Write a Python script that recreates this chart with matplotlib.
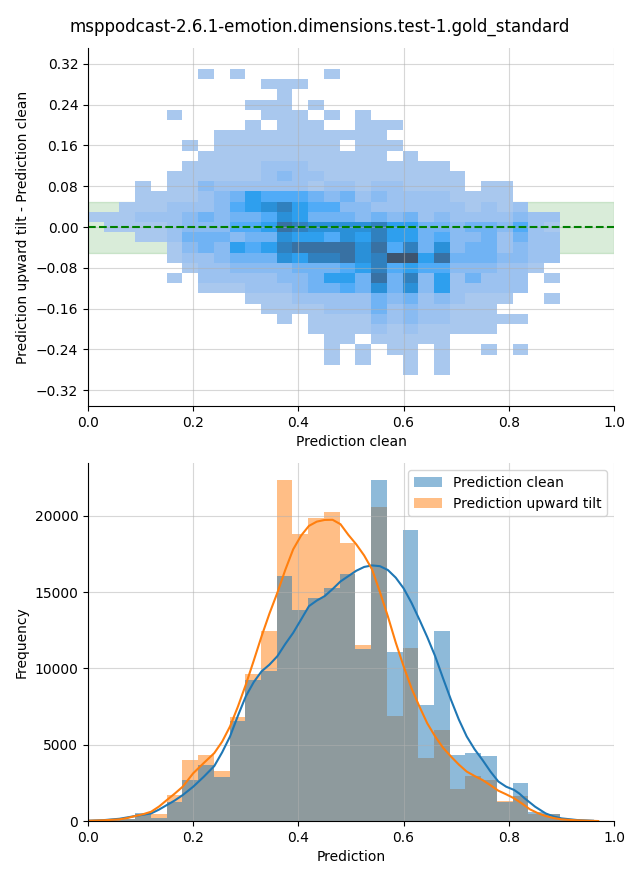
import numpy as np
import matplotlib
matplotlib.use("Agg")
import matplotlib.pyplot as plt
import seaborn as sns

TITLE = "msppodcast-2.6.1-emotion.dimensions.test-1.gold_standard"

############## Histogram (bottom) ##############
bin_width = 0.0299
clean_counts = [30, 80, 150, 550, 220, 1230, 2690, 3640, 2910, 6570, 9270,
                9860, 16030, 13860, 14590, 15240, 16200, 11300, 22340, 11100,
                19050, 7620, 12480, 4340, 4450, 4270, 1250, 2470, 610, 470,
                110, 50, 20]
tilt_counts = [20, 50, 120, 450, 450, 1710, 4010, 4340, 3280, 6850, 9660,
               12480, 22340, 18790, 19840, 20240, 18200, 11560, 20610, 6900,
               11340, 4160, 5980, 2100, 2960, 2690, 1310, 1640, 480, 430,
               70, 40, 20]

# KDE curves
kde_clean_x = [0.0, 0.03, 0.06, 0.09, 0.12, 0.135, 0.15, 0.165, 0.18, 0.20,
               0.22, 0.24, 0.255, 0.27, 0.285, 0.30, 0.315, 0.33, 0.345, 0.36,
               0.375, 0.39, 0.405, 0.42, 0.435, 0.45, 0.465, 0.48, 0.495, 0.51,
               0.525, 0.54, 0.555, 0.57, 0.585, 0.60, 0.615, 0.63, 0.645, 0.66,
               0.675, 0.69, 0.705, 0.72, 0.735, 0.75, 0.765, 0.78, 0.795, 0.81,
               0.82, 0.83, 0.85, 0.87, 0.885, 0.90, 0.93, 0.96]
kde_clean_y = [20, 60, 150, 330, 500, 750, 1050, 1350, 1700, 2250,
               2900, 3600, 4500, 5540, 6900, 8170, 9100, 9810, 10250, 10800,
               11600, 12330, 13200, 14080, 14450, 14740, 15200, 15700, 16050, 16400,
               16650, 16750, 16700, 16450, 15950, 15250, 14300, 13200, 12050, 10800,
               9350, 7950, 6650, 5540, 4700, 4000, 3250, 2590, 2250, 2040,
               1800, 1490, 940, 500, 300, 175, 65, 20]
kde_tilt_x = [0.0, 0.03, 0.06, 0.075, 0.09, 0.105, 0.12, 0.135, 0.15, 0.165,
              0.18, 0.20, 0.22, 0.24, 0.255, 0.27, 0.285, 0.30, 0.315, 0.33,
              0.345, 0.36, 0.375, 0.39, 0.405, 0.42, 0.435, 0.45, 0.465, 0.48,
              0.495, 0.51, 0.525, 0.54, 0.555, 0.57, 0.585, 0.60, 0.615, 0.63,
              0.645, 0.66, 0.675, 0.69, 0.705, 0.72, 0.735, 0.75, 0.765, 0.78,
              0.795, 0.81, 0.825, 0.84, 0.855, 0.87, 0.885, 0.90, 0.93, 0.97]
kde_tilt_y = [20, 50, 110, 200, 330, 450, 610, 950, 1380, 1800,
              2250, 3130, 3800, 4450, 5200, 6200, 7500, 8940, 10500, 12110,
              13600, 14960, 16450, 17800, 18700, 19340, 19620, 19730, 19740, 19450,
              18750, 18130, 17400, 16490, 15000, 13420, 11700, 10140, 8700, 7510,
              6400, 5540, 4800, 4230, 3700, 3240, 2950, 2690, 2350, 1990,
              1750, 1490, 1150, 770, 520, 330, 200, 110, 45, 0]

############## 2D histogram (top) ##############
# intensity level per cell, rows from y=0.30 down to y=-0.28, columns = bins
level_counts = {".": 0, "1": 60, "2": 250, "3": 500, "4": 800, "5": 1100,
                "6": 1500, "7": 2000, "8": 2500, "9": 3000, "A": 4000}
diff_rows = [
    ".......1.1 .....1.... ..........",
    ".......... .111...... ..........",
    ".......... ..1....... ..........",
    ".......... 111.1..... ..........",
    ".....1.... .111.1.1.. ..........",
    ".......... 1.111..111 ..........",
    "........11 111111111. ..........",
    "......1.11 111111.111 ..........",
    ".......111 111111111. 1.........",
    "......1111 1222111111 111.......",
    ".....11111 1232211111 1111......",
    "...1.11322 2222122122 1111.11...",
    "...1111234 6555434232 2221111...",
    "..11122235 6786553322 22221212..",
    "1112223434 4576444343 4232222322",
    ".111123335 5698777786 6443443521",
    "...1124443 4476657686 6453342422",
    ".....13436 5689999795 8473442322",
    ".....12234 447688978A A694443322",
    "......1223 3334445685 655333221.",
    ".....1.222 2233466494 83624222.1",
    ".......111 2223445474 73622222..",
    ".......... 1112222243 4232111..1",
    ".......... .111122242 322111....",
    ".......... ..1.111132 32211111..",
    ".......... ....111121 211111....",
    ".......... .....11.11 111.......",
    ".......... .....1.1.1 1.1..1.1..",
    ".......... .....1.1.. 1.1.......",
    ".......... .......... 1.1.......",
]
diff_centers = np.round(np.arange(0.30, -0.29, -0.02), 2)

xs, ys, ws = [], [], []
for yc, row in zip(diff_centers, diff_rows):
    for col, ch in enumerate(row.replace(" ", "")):
        if level_counts[ch] > 0:
            xs.append((col + 0.5) * bin_width)
            ys.append(yc)
            ws.append(level_counts[ch])

xedges = np.arange(31) * bin_width
yedges = np.linspace(-0.29, 0.31, 31)

############## Darstellung ##############
fig = plt.figure(figsize=(6.4, 8.8), dpi=100)
ax1 = fig.add_axes([0.1375, 0.5386, 0.8219, 0.4068])
ax2 = fig.add_axes([0.1375, 0.0670, 0.8219, 0.4068])
fig.suptitle(TITLE, fontsize=12)

sns.histplot(x=xs, y=ys, weights=ws, bins=[xedges, yedges], ax=ax1)
ax1.axhspan(-0.05, 0.05, color="green", alpha=0.15, zorder=0)
ax1.axhline(0, color="green", linestyle="--", linewidth=1.5)
ax1.set_xlim(0, 1)
ax1.set_ylim(-0.351, 0.351)
ax1.set_yticks(np.arange(-0.32, 0.33, 0.08))
ax1.set_xticks([0.0, 0.2, 0.4, 0.6, 0.8, 1.0])
ax1.set_xlabel("Prediction clean")
ax1.set_ylabel("Prediction upward tilt - Prediction clean")
ax1.grid(True, alpha=0.5)

left = np.arange(len(clean_counts)) * bin_width
ax2.bar(left, tilt_counts, width=bin_width, align="edge", color="C1",
        alpha=0.5, linewidth=0, label="Prediction upward tilt")
ax2.bar(left, clean_counts, width=bin_width, align="edge", color="C0",
        alpha=0.5, linewidth=0, label="Prediction clean")
ax2.plot(kde_clean_x, kde_clean_y, color="C0", linewidth=1.5)
ax2.plot(kde_tilt_x, kde_tilt_y, color="C1", linewidth=1.5)
handles, labels = ax2.get_legend_handles_labels()
ax2.legend(handles[::-1], labels[::-1], loc="upper right")
ax2.set_xlim(0, 1)
ax2.set_xlabel("Prediction")
ax2.set_ylabel("Frequency")
ax2.grid(True, alpha=0.5)

for ax in (ax1, ax2):
    ax.spines[["top", "right"]].set_visible(False)

fig.savefig("out.png", dpi=100)
